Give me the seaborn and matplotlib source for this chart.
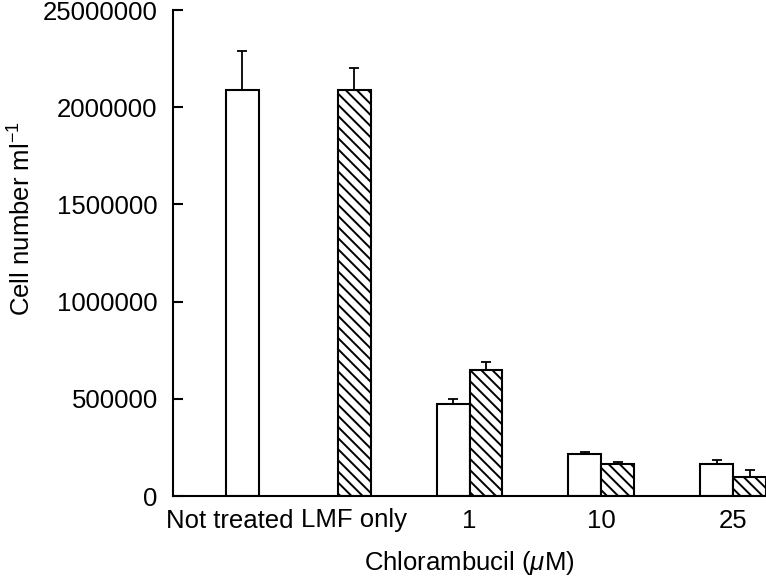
import matplotlib
matplotlib.use("Agg")
import matplotlib.pyplot as plt
import matplotlib.transforms as mtransforms
import numpy as np
import pandas as pd
import seaborn as sns

# Дані
categories = ["Not treated", "LMF only", "1", "10", "25"]
plain_values = [2090000, None, 472000, 216000, 164000]
plain_errors = [200000, None, 29000, 11000, 22000]
lmf_values = [None, 2090000, 647000, 164000, 96000]
lmf_errors = [None, 113000, 44000, 12000, 39000]
ytick_values = [0, 500000, 1000000, 1500000, 2000000, 2500000]
ytick_labels = ["0", "500000", "1000000", "1500000", "2000000", "25000000"]

sns.set_style("ticks")
plt.rcParams["font.family"] = ["Liberation Sans", "DejaVu Sans"]
plt.rcParams["mathtext.fontset"] = "custom"
plt.rcParams["mathtext.rm"] = "Liberation Sans"
plt.rcParams["mathtext.it"] = "Liberation Sans:italic"
plt.rcParams["hatch.linewidth"] = 1.4
plt.rcParams["hatch.color"] = "black"
for key in ["text.color", "axes.labelcolor", "xtick.color", "ytick.color", "axes.edgecolor"]:
    plt.rcParams[key] = "black"

# розміщення груп по осі x (у ширинах стовпчика)
group_x = [2.1, 5.5, 9, 13, 17]

rows = []
for i, cat in enumerate(categories):
    both = plain_values[i] is not None and lmf_values[i] is not None
    if plain_values[i] is not None:
        rows.append({"pos": group_x[i] - (0.5 if both else 0), "value": plain_values[i],
                     "err": plain_errors[i], "series": "plain"})
    if lmf_values[i] is not None:
        rows.append({"pos": group_x[i] + (0.5 if both else 0), "value": lmf_values[i],
                     "err": lmf_errors[i], "series": "LMF"})
df = pd.DataFrame(rows)

fig = plt.figure(figsize=(7.66, 5.8), dpi=100)
ax = fig.add_axes([173 / 766, 84 / 580, 593 / 766, 486 / 580])

sns.barplot(data=df, x="pos", y="value", hue="series", native_scale=True, dodge=False,
            palette={"plain": "white", "LMF": "white"}, edgecolor="black", linewidth=1.5,
            width=1.0, errorbar=None, legend=False, ax=ax)

# штрихування для серії з LMF
lmf_pos = df.loc[df.series == "LMF", "pos"].values
for p in ax.patches:
    cx = p.get_x() + p.get_width() / 2
    if np.any(np.isclose(cx, lmf_pos)):
        p.set_hatch("\\\\\\")

ax.errorbar(df.pos, df.value, yerr=[np.zeros(len(df)), df.err], fmt="none",
            ecolor="black", elinewidth=1.3, capsize=3.5, capthick=1.3, zorder=5)

ax.set_xlim(0, 18)
ax.set_ylim(0, 2500000)
ax.set_yticks(ytick_values, ytick_labels, fontsize=18.5)
ax.set_xticks(group_x, categories, fontsize=18.5)
ax.tick_params(axis="y", direction="in", length=7, width=1.5, pad=11)
ax.tick_params(axis="x", length=0, pad=9)
# зсув підпису "Not treated" ліворуч, як на оригіналі
lab = ax.get_xticklabels()[0]
lab.set_transform(lab.get_transform() + mtransforms.ScaledTranslation(-12 / 100, 0, fig.dpi_scale_trans))

sns.despine(ax=ax)
for s in ["left", "bottom"]:
    ax.spines[s].set_linewidth(1.5)

ax.set_xlabel(r"Chlorambucil ($\mu$M)", fontsize=18.5)
ax.set_ylabel(r"Cell number ml$^{-1}$", fontsize=18.5)
ax.xaxis.set_label_coords(0.5, -0.11)
ax.yaxis.set_label_coords(-0.232, 0.572)

fig.savefig("out.png", dpi=100)
